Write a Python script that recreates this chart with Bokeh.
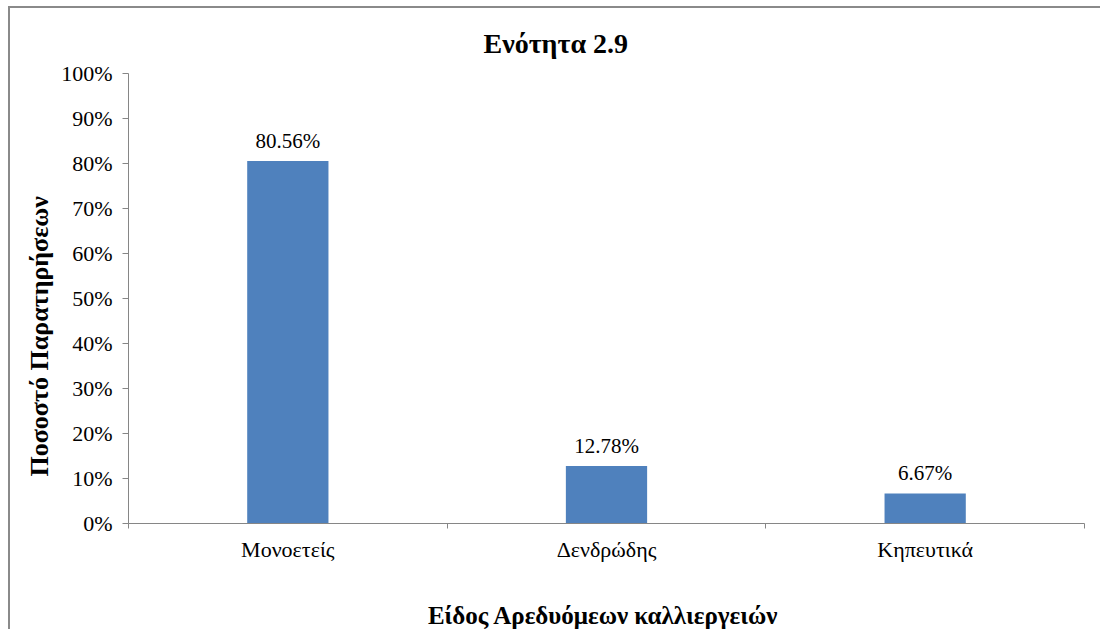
from bokeh.plotting import figure
from bokeh.models import (Range1d, LinearAxis, FixedTicker, NumeralTickFormatter,
                          Title, ColumnDataSource)
from bokeh.embed import file_html
from bokeh.resources import INLINE
from bokeh.core.properties import value

# ---- data ----
categories = ["Μονοετείς", "Δενδρώδης", "Κηπευτικά"]
shares = [0.8056, 0.1278, 0.0667]
share_labels = ["80.56%", "12.78%", "6.67%"]
y_ticks = [0.0, 0.1, 0.2, 0.3, 0.4, 0.5, 0.6, 0.7, 0.8, 0.9, 1.0]
title_text = "Ενότητα 2.9"
x_title = "Είδος Αρεδυόμεων  καλλιεργειών"
y_title = "Ποσοστό Παρατηρήσεων"

FONT = "Liberation Serif"
AXIS_COL = "#868686"
BAR_COL = "#4F81BD"

n = len(categories)
centers = [i + 0.5 for i in range(n)]

W, H = 1092, 623
p = figure(width=W, height=H, x_range=Range1d(0, n), y_range=Range1d(0, 1),
           output_backend="svg", toolbar_location=None, x_axis_location=None,
           y_axis_location=None)
p.styles = {"border-left": "2px solid #8a8a8a", "border-top": "2px solid #8a8a8a",
            "margin-left": "8px", "margin-top": "6px"}
p.min_border_left = 118
p.min_border_right = 18
p.min_border_top = 65
p.min_border_bottom = 100
p.outline_line_color = None
p.xgrid.visible = False
p.ygrid.visible = False
p.background_fill_color = "white"
p.border_fill_color = "white"

src = ColumnDataSource(dict(x=centers, cat=categories, val=shares, lab=share_labels))
p.vbar(x="x", top="val", width=0.255, source=src, fill_color=BAR_COL, line_color=None)
p.text(x="x", y="val", text="lab", source=src, text_align="center", text_baseline="alphabetic",
       y_offset=-20, text_font=value(FONT), text_font_size="21px", text_color="black")

# y axis
yax = LinearAxis(ticker=FixedTicker(ticks=y_ticks), formatter=NumeralTickFormatter(format="0%"))
yax.axis_line_color = AXIS_COL
yax.major_tick_line_color = AXIS_COL
yax.major_tick_out = 6
yax.major_tick_in = 0
yax.minor_tick_line_color = None
yax.major_label_text_font = FONT
yax.major_label_text_font_size = "22px"
yax.major_label_text_color = "black"
yax.major_label_standoff = 10
p.add_layout(yax, "left")

# x axis: labels at category centres, tick marks at category boundaries
xax = LinearAxis(ticker=FixedTicker(ticks=centers, minor_ticks=list(range(n + 1))))
xax.major_label_overrides = {c: name for c, name in zip(centers, categories)}
xax.axis_line_color = AXIS_COL
xax.major_tick_line_color = None
xax.minor_tick_line_color = AXIS_COL
xax.minor_tick_out = 5
xax.minor_tick_in = 0
xax.major_label_text_font = FONT
xax.major_label_text_font_size = "22px"
xax.major_label_text_color = "black"
xax.major_label_standoff = 7
xax.axis_label = x_title
xax.axis_label_text_font = FONT
xax.axis_label_text_font_size = "25px"
xax.axis_label_text_font_style = "bold"
xax.axis_label_text_color = "black"
xax.axis_label_standoff = 37
p.add_layout(xax, "below")

# chart title
p.add_layout(Title(text=title_text, align="left", offset=355, standoff=30, text_font=FONT,
                   text_font_size="28px", text_font_style="bold", text_color="black"), "above")
# y-axis title
p.add_layout(Title(text=y_title, align="left", offset=47, text_font=FONT,
                   text_font_size="26px", text_font_style="bold", text_color="black"), "left")

open("out.html", "w").write(file_html(p, INLINE))
